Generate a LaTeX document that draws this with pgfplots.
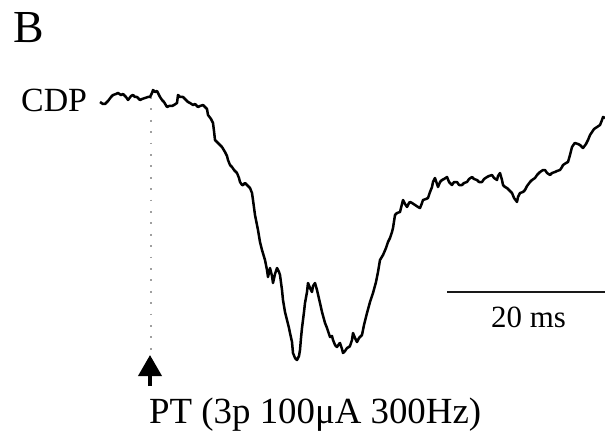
\documentclass[border=0pt]{standalone}
\usepackage{pgfplots}
\pgfplotsset{compat=1.18}
\usepackage{fontspec}
\setmainfont{Liberation Serif}
\usetikzlibrary{arrows.meta}

% CDP field potential trace (x: time in px units, y: potential, downward positive)
\pgfplotstableread{
x y
100 102
103 104
105 104
108 101
111 97
113 95
116 94
118 93
121 95
123 94
126 97
128 100
131 96
133 95
135 97
137 97
140 100
142 99
145 98
148 97
150 97
152 93
153 90
155 92
157 91
159 95
160 97
162 100
164 102
167 107
169 106
172 106
174 105
177 103
178 95
180 97
183 97
185 99
188 102
190 103
193 105
195 104
198 107
200 106
203 105
205 107
207 109
208 115
211 119
213 123
214 131
215 140
218 143
220 145
222 147
225 152
227 156
228 160
230 165
232 167
234 170
237 173
239 178
240 182
242 185
243 185
245 183
247 185
250 188
252 193
253 200
255 215
258 230
260 242
262 250
265 260
267 270
268 277
270 268
272 276
273 283
275 274
277 268
279 272
280 275
282 290
283 300
285 312
287 320
289 328
290 333
292 342
293 353
295 358
297 360
299 356
300 350
301 338
302 328
304 312
305 303
307 292
308 283
310 288
312 292
313 286
315 283
317 290
320 303
322 312
325 323
327 328
330 337
332 336
333 340
335 345
337 347
339 344
340 343
342 349
343 353
345 351
347 348
349 347
350 346
352 340
353 333
355 338
357 342
359 338
362 335
364 325
367 313
370 302
373 293
376 282
378 272
380 260
383 255
386 248
388 242
390 238
392 232
393 228
395 215
397 213
400 212
402 204
403 200
405 204
407 207
409 203
410 202
412 203
415 205
418 207
420 208
422 203
423 200
426 199
428 198
430 192
432 187
433 182
435 178
437 184
438 187
440 182
442 180
444 179
447 177
449 182
452 185
454 182
457 182
459 185
462 185
464 183
467 182
469 179
472 177
474 179
477 180
479 182
482 182
484 179
487 177
489 176
492 175
494 178
497 180
498 176
500 173
502 180
503 185
505 187
507 188
509 190
512 193
514 198
517 202
518 197
520 193
523 192
525 190
527 186
530 182
532 180
535 178
537 175
540 172
543 170
545 170
547 173
550 175
552 173
555 172
557 171
560 170
562 167
563 165
566 163
568 162
570 155
572 147
574 144
575 143
578 144
580 145
582 147
583 148
586 144
588 140
590 135
592 132
594 129
597 127
600 125
602 120
603 117
605 118
}\cdptrace

\begin{document}
\begin{tikzpicture}
\begin{axis}[
  scale only axis,
  width=605bp, height=443bp,
  xmin=0, xmax=605, ymin=0, ymax=443,
  y dir=reverse,
  hide axis,
  clip=false,
]
% stimulus onset marker
\addplot[gray!75, line width=2bp, dash pattern=on 1.8bp off 9.6bp]
  coordinates {(151,97) (151,350)};
% recorded trace
\addplot[black, line width=2.5bp, line join=round] table[x=x,y=y] {\cdptrace};
% time scale bar
\addplot[black!90, line width=2.2bp] coordinates {(447,292) (605,292)};
% stimulus arrow
\addplot[black, line width=3.8bp, -{Triangle[width=23bp,length=21bp]}]
  coordinates {(150,386) (150,355)};

\node[anchor=base west, inner sep=0pt, font=\fontsize{46}{52}\selectfont] at (axis cs:13,43) {B};
\node[anchor=base west, inner sep=0pt, font=\fontsize{34}{40}\selectfont] at (axis cs:21,112) {CDP};
\node[anchor=base west, inner sep=0pt, font=\fontsize{31}{36}\selectfont] at (axis cs:491,327) {20 ms};
\node[anchor=base west, inner sep=0pt, font=\fontsize{37}{42}\selectfont] at (axis cs:149,423) {PT (3p 100μA 300Hz)};
\end{axis}
\pgfresetboundingbox
\path[use as bounding box] (current axis.south west) rectangle (current axis.north east);
\end{tikzpicture}
\end{document}
